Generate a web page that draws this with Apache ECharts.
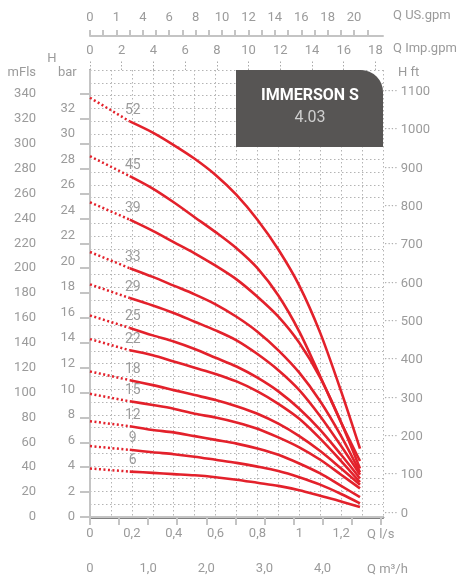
<!DOCTYPE html>
<html>
<head>
<meta charset="utf-8">
<script src="https://cdn.jsdelivr.net/npm/echarts@6/dist/echarts.min.js"></script>
<style>
	body{margin:0;background:#fff;}
	#pumpchart{width:458px;height:584px;}
</style>
</head>
<body>
<div id="pumpchart"></div>

<script>
var qDot = [0, 0.19];
var qLine = [0.19, 0.3, 0.4, 0.5, 0.6, 0.7, 0.8, 0.9, 1.0, 1.1, 1.2, 1.29];

// head (m) per stage count, first value is at Q = 0
var h52 = [337, 318, 309, 299, 288, 275, 259, 239, 215, 186, 148, 101, 55];
var h45 = [290, 274, 264, 253, 241, 229, 216, 200, 178, 149, 113, 76, 45];
var h39 = [253, 239, 230, 221, 212, 202, 191, 177, 161, 140, 112, 76, 39];
var h33 = [213, 200, 193, 186, 179, 171, 161, 149, 134, 116, 93, 65, 36];
var h29 = [187, 176, 170, 164, 157, 150, 142, 131, 118, 102, 81, 57, 34];
var h25 = [162, 152, 146, 141, 135, 128, 121, 112, 101, 87, 70, 50, 31];
var h22 = [143, 134, 130, 125, 120, 115, 109, 101, 91, 79, 63, 45, 28];
var h18 = [117, 110, 106, 102, 98, 94, 89, 83, 75, 65, 53, 39, 26];
var h15 = [99, 93, 90, 87, 83, 80, 76, 71, 64, 56, 46, 34, 23];
var h12 = [77, 73, 70, 68, 65, 62, 59, 55, 50, 43, 35, 25, 16];
var h9 = [57, 54, 52, 50.5, 48.5, 46, 43.5, 40.5, 37, 32, 26, 18.5, 11];
var h6 = [39, 36.5, 35.5, 34.5, 33.5, 32, 30, 27.5, 25, 21.5, 17, 12.5, 8];

var stages = ['52', '45', '39', '33', '29', '25', '22', '18', '15', '12', '9', '6'];
var heads = [h52, h45, h39, h33, h29, h25, h22, h18, h15, h12, h9, h6];

// axis ticks / labels
var lsTicks = [0, 0.2, 0.4, 0.6, 0.8, 1, 1.2];
var lsLabels = ['0', '0,2', '0,4', '0,6', '0,8', '1', '1,2'];
var m3Ticks = [0, 0.5, 1, 1.5, 2, 2.5, 3, 3.5, 4, 4.5, 5];
var m3Labels = ['0', '', '1,0', '', '2,0', '', '3,0', '', '4,0', '', ''];
var usTicks = [0, 1, 2, 3, 4, 5, 6, 7, 8, 9, 10, 11, 12, 13, 14, 15, 16, 17, 18, 19, 20, 21];
var usLabelVals = [0, 2, 4, 6, 8, 10, 12, 14, 16, 18, 20];
var usLabels = ['0', '1', '4', '6', '8', '10', '12', '14', '16', '18', '20'];
var impTicks = [0, 2, 4, 6, 8, 10, 12, 14, 16, 18];
var mTicks = [0, 20, 40, 60, 80, 100, 120, 140, 160, 180, 200, 220, 240, 260, 280, 300, 320, 340];
var barTicks = [0, 2, 4, 6, 8, 10, 12, 14, 16, 18, 20, 22, 24, 26, 28, 30, 32];

var red = '#e3212b';
var grey = '#9b9b9b';
var font = 'Roboto';
var fsize = 13;

function pick(vals, labels) {
	return function (v) {
		for (var i = 0; i < vals.length; i++) {
			if (Math.abs(vals[i] - v) < 1e-6) return labels ? labels[i] : String(v);
		}
		return '';
	};
}

var series = [];
for (var k = 0; k < heads.length; k++) {
	var h = heads[k];
	series.push({
		type: 'line',
		xAxisIndex: 0,
		yAxisIndex: 1,
		symbol: 'circle',
		symbolSize: 0,
		showSymbol: true,
		silent: true,
		lineStyle: { color: red, width: 2.5, type: [2, 2.5] },
		itemStyle: { color: red },
		data: [
			[qDot[0], h[0]],
			{
				value: [qDot[1], h[1]],
				label: {
					show: true,
					formatter: stages[k],
					position: 'top',
					distance: 4,
					offset: [3, 0],
					color: grey,
					fontSize: 14,
					fontFamily: font
				}
			}
		]
	});
	var pts = [];
	for (var i = 0; i < qLine.length; i++) {
		pts.push([qLine[i], h[i + 1]]);
	}
	series.push({
		type: 'line',
		xAxisIndex: 0,
		yAxisIndex: 1,
		symbol: 'none',
		smooth: 0.3,
		silent: true,
		lineStyle: { color: red, width: 2.6 },
		data: pts
	});
}

var chart = echarts.init(document.getElementById('pumpchart'), null, { renderer: 'canvas' });

var option = {
	animation: false,
	grid: [
		{ left: 90, right: 75, top: 70, bottom: 67 },
		// H ft scale sits a little higher than the metre scale: 0 ft at y=513, 1100 ft at y=92
		{ left: 90, right: 75, top: 91.7, bottom: 70.7 }
	],
	xAxis: [
		{
			// Q l/s
			type: 'value', position: 'bottom', min: 0, max: 1.4, interval: 0.1,
			axisLine: { show: true, lineStyle: { color: '#575757', width: 2.5 } },
			axisTick: { show: false },
			splitLine: { show: true, lineStyle: { color: '#b4b4b4', type: [1.5, 2.5], width: 1 } },
			axisLabel: {
				customValues: lsTicks,
				formatter: pick(lsTicks, lsLabels),
				margin: 10,
				color: grey, fontSize: fsize, fontFamily: font
			}
		},
		{
			// Q m3/h
			type: 'value', position: 'bottom', offset: 31, min: 0, max: 5.04, interval: 0.5,
			axisLine: { show: true, lineStyle: { color: '#c4c4c4', width: 2 } },
			axisTick: { show: true, length: 8, customValues: m3Ticks, lineStyle: { color: '#c4c4c4', width: 2 } },
			splitLine: { show: false },
			axisLabel: {
				customValues: m3Ticks,
				formatter: pick(m3Ticks, m3Labels),
				margin: 14,
				color: grey, fontSize: fsize, fontFamily: font
			}
		},
		{
			// Q US.gpm
			type: 'value', position: 'top', offset: 34, min: 0, max: 1.4 / 0.0630902, interval: 1,
			axisLine: { show: true, lineStyle: { color: '#c4c4c4', width: 2 } },
			axisTick: { show: true, length: 6, customValues: usTicks, lineStyle: { color: '#c4c4c4', width: 2 } },
			splitLine: { show: false },
			axisLabel: {
				customValues: usLabelVals,
				formatter: pick(usLabelVals, usLabels),
				margin: 12,
				color: grey, fontSize: fsize, fontFamily: font
			}
		},
		{
			// Q Imp.gpm
			type: 'value', position: 'top', offset: 0, min: 0, max: 1.4 / 0.0757682, interval: 2,
			axisLine: { show: false },
			axisTick: { show: true, length: 10, customValues: impTicks, lineStyle: { color: '#aaaaaa', width: 1, type: [1.5, 2] } },
			splitLine: { show: false },
			axisLabel: {
				customValues: impTicks,
				formatter: pick(impTicks),
				margin: 13,
				color: grey, fontSize: fsize, fontFamily: font
			}
		},
		{
			// helper axis for the ft grid, not drawn
			type: 'value', gridIndex: 1, min: 0, max: 1.4, show: false
		}
	],
	yAxis: [
		{
			// bar, also the left frame and the horizontal grid
			type: 'value', position: 'left', offset: 0, min: 0, max: 35, interval: 1,
			axisLine: { show: true, lineStyle: { color: '#575757', width: 2 } },
			axisTick: { show: false },
			splitLine: { show: true, lineStyle: { color: '#b4b4b4', type: [1.5, 2.5], width: 1 } },
			axisLabel: {
				customValues: barTicks,
				formatter: pick(barTicks),
				margin: 15,
				color: grey, fontSize: fsize, fontFamily: font
			}
		},
		{
			// mFls
			type: 'value', position: 'left', offset: 38, min: 0, max: 447 / 1.244, interval: 20,
			axisLine: { show: true, lineStyle: { color: '#c4c4c4', width: 2 } },
			axisTick: { show: true, length: 10, customValues: mTicks, lineStyle: { color: '#c4c4c4', width: 2 } },
			splitLine: { show: false },
			axisLabel: {
				customValues: mTicks,
				formatter: pick(mTicks),
				margin: 16,
				color: grey, fontSize: fsize, fontFamily: font
			}
		},
		{
			// H ft, the dotted leader is part of the label
			type: 'value', gridIndex: 1, position: 'right', offset: 0, min: 0, max: 1100, interval: 100,
			axisLine: { show: false },
			axisTick: { show: false },
			splitLine: { show: false },
			axisLabel: {
				margin: 1,
				formatter: function (v) { return '{d|····} ' + String(v); },
				rich: { d: { color: '#b0b0b0', fontSize: fsize, fontFamily: font } },
				color: grey, fontSize: fsize, fontFamily: font
			}
		}
	],
	graphic: [
		{
			type: 'rect', z: 100,
			shape: { x: 236, y: 70, width: 147, height: 77, r: [0, 22, 0, 0] },
			style: { fill: '#575554' }
		},
		{
			type: 'text', z: 101, x: 310, y: 96,
			style: { text: 'IMMERSON S', fill: '#ffffff', font: 'bold 16px Roboto', textAlign: 'center', textVerticalAlign: 'middle' }
		},
		{
			type: 'text', z: 101, x: 310, y: 118,
			style: { text: '4.03', fill: '#cfcfcf', font: '16px Roboto', textAlign: 'center', textVerticalAlign: 'middle' }
		},
		{ type: 'text', x: 393, y: 16, style: { text: 'Q US.gpm', fill: grey, font: fsize + 'px Roboto', textVerticalAlign: 'middle' } },
		{ type: 'text', x: 393, y: 49, style: { text: 'Q Imp.gpm', fill: grey, font: fsize + 'px Roboto', textVerticalAlign: 'middle' } },
		{ type: 'text', x: 398, y: 73, style: { text: 'H ft', fill: grey, font: fsize + 'px Roboto', textVerticalAlign: 'middle' } },
		{ type: 'text', x: 36, y: 73, style: { text: 'mFls', fill: grey, font: fsize + 'px Roboto', textAlign: 'right', textVerticalAlign: 'middle' } },
		{ type: 'text', x: 52, y: 59, style: { text: 'H', fill: grey, font: fsize + 'px Roboto', textAlign: 'center', textVerticalAlign: 'middle' } },
		{ type: 'text', x: 58, y: 73, style: { text: 'bar', fill: grey, font: fsize + 'px Roboto', textVerticalAlign: 'middle' } },
		{ type: 'text', x: 367, y: 535, style: { text: 'Q l/s', fill: grey, font: fsize + 'px Roboto', textVerticalAlign: 'middle' } },
		{ type: 'text', x: 367, y: 570, style: { text: 'Q m³/h', fill: grey, font: fsize + 'px Roboto', textVerticalAlign: 'middle' } }
	],
	series: series
};

chart.setOption(option);
</script>
</body>
</html>
